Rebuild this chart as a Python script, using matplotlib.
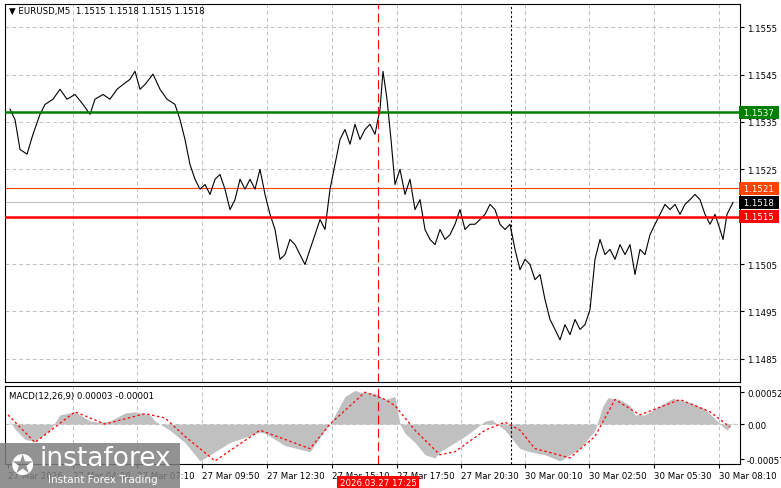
import matplotlib
matplotlib.use("Agg")
import matplotlib.pyplot as plt
from matplotlib.patches import Rectangle

# time position (chart pixel units) and close prices
px = [5,10,15,22,28,35,40,48,55,62,70,78,85,90,98,105,112,118,125,130,135,140,148,155,162,170,175,180,185,190,
      195,200,205,210,215,220,225,230,235,240,245,250,255,260,265,270,275,280,285,290,295,300,305,310,315,320,325,330,335,340,
      345,350,355,360,365,370,375,378,382,386,390,395,400,405,410,415,420,425,430,435,440,445,450,455,460,465,470,475,480,485,
      490,495,500,505,510,515,520,525,530,535,540,545,550,555,560,565,570,575,580,585,590,595,600,605,610,615,620,625,630,635,
      640,645,650,655,660,665,670,675,680,685,690,695,700,705,710,715,718,722,728]
price = [1.15377,1.15355,1.15292,1.15282,1.15324,1.15366,1.15387,1.15398,1.15419,1.15398,1.15408,1.15387,1.15366,1.15398,1.15408,1.15398,1.15419,1.15429,1.15440,1.15457,
         1.15419,1.15429,1.15451,1.15419,1.15398,1.15387,1.15355,1.15313,1.15260,1.15229,
         1.15208,1.15218,1.15197,1.15229,1.15239,1.15208,1.15165,1.15186,1.15229,1.15208,1.15229,1.15208,1.15250,1.15197,1.15155,1.15123,1.15060,1.15070,1.15102,1.15091,
         1.15070,1.15049,1.15081,1.15112,1.15144,1.15123,1.15208,1.15260,1.15313,1.15334,
         1.15303,1.15345,1.15313,1.15334,1.15345,1.15324,1.15377,1.15457,1.15398,1.15313,1.15218,1.15250,1.15197,1.15229,1.15165,1.15186,1.15123,1.15102,1.15091,1.15123,
         1.15102,1.15112,1.15134,1.15165,1.15123,1.15134,1.15134,1.15144,1.15155,1.15176,
         1.15165,1.15134,1.15123,1.15134,1.15081,1.15038,1.15060,1.15049,1.15017,1.15028,1.14975,1.14933,1.14912,1.14890,1.14922,1.14901,1.14933,1.14912,1.14922,1.14954,
         1.15060,1.15102,1.15070,1.15081,1.15060,1.15091,1.15070,1.15091,1.15028,1.15081,
         1.15070,1.15112,1.15134,1.15155,1.15176,1.15165,1.15176,1.15155,1.15176,1.15186,1.15197,1.15186,1.15155,1.15134,1.15155,1.15123,1.15102,1.15155,1.15180]

macd_x = [5,10,20,30,45,55,70,85,95,105,120,130,145,150,165,180,195,200,215,225,255,260,280,305,320,325,335,340,350,355,
          370,380,390,395,400,410,420,430,435,445,460,470,480,487,492,500,515,525,540,555,575,590,598,603,615,625,630,640,655,668,
          685,700,715,722,728]
macd_hist = [0.00005,-0.00008,-0.00025,-0.00028,-0.00010,0.00015,0.00020,0.00005,0.00003,0.00005,0.00018,0.00020,0.00015,0.00005,-0.00010,-0.00030,-0.00060,-0.00055,-0.00040,-0.00030,
             -0.00013,-0.00015,-0.00035,-0.00045,-0.00010,0.00000,0.00030,0.00045,0.00055,0.00052,
             0.00050,0.00040,0.00045,0.00000,-0.00015,-0.00030,-0.00050,-0.00055,-0.00045,-0.00035,-0.00020,-0.00008,0.00005,0.00007,0.00000,-0.00010,-0.00040,-0.00045,-0.00050,-0.00060,
             -0.00040,-0.00010,0.00030,0.00043,0.00040,0.00030,0.00015,0.00015,0.00030,0.00042,
             0.00035,0.00025,0.00000,-0.00010,0.00003]
sig_x = [3,30,70,100,140,160,180,210,255,305,325,360,380,390,410,435,450,480,500,515,530,565,590,610,635,675,705,725]
sig_y = [0.00015,-0.00030,0.00020,0.00000,0.00017,0.00010,-0.00020,-0.00060,-0.00010,-0.00040,0.00000,0.00052,0.00040,0.00030,-0.00010,-0.00050,-0.00045,-0.00010,0.00003,-0.00010,-0.00040,-0.00055,-0.00020,0.00040,0.00015,0.00040,0.00020,-0.00005]

tick_pos = [3,68,132,197,262,327,392,456,520,584,649,714]
tick_lab = ["27 Mar 2026","27 Mar 04:30","27 Mar 07:10","27 Mar 09:50","27 Mar 12:30","27 Mar 15:10",
            "27 Mar 17:50","27 Mar 20:30","30 Mar 00:10","30 Mar 02:50","30 Mar 05:30","30 Mar 08:10"]
price_ticks = [1.1485,1.1495,1.1505,1.1515,1.1525,1.1535,1.1545,1.1555]
macd_ticks = [-0.00057,0.0,0.00052]

FS = 6.2
W,H = 781,489
fig = plt.figure(figsize=(W/100,H/100),dpi=100)
fig.patch.set_facecolor("white")
ax = fig.add_axes([5/W,1-383/H,735/W,378/H])
am = fig.add_axes([5/W,1-465/H,735/W,78/H])
XMIN,XMAX = 0,735
for a in (ax,am):
    a.set_xlim(XMIN,XMAX)
    for s in a.spines.values():
        s.set_color("black"); s.set_linewidth(0.8)
    a.yaxis.tick_right()
    a.tick_params(axis="y",labelsize=FS,length=3,pad=2)
    a.set_xticks(tick_pos)
    for t in tick_pos[1:]:
        a.axvline(t,color="#c0c0c0",ls=(0,(4,3)),lw=0.7,zorder=0)
ax.set_ylim(1.14801,1.15599)
ax.set_yticks(price_ticks)
ax.set_yticklabels([f"{v:.4f}" for v in price_ticks])
for v in price_ticks:
    ax.axhline(v,color="#c0c0c0",ls=(0,(4,3)),lw=0.7,zorder=0)
ax.tick_params(axis="x",labelbottom=False,length=0)
ax.plot(px,price,color="black",lw=0.8,zorder=3)
ax.axhline(1.1537,color="#008000",lw=1.8,zorder=4)
ax.axhline(1.1515,color="#ff0000",lw=1.8,zorder=4)
ax.axhline(1.1521,color="#ff4500",lw=0.8,zorder=2)
ax.axhline(1.1518,color="#c0c0c0",lw=0.8,zorder=2)
for v,c,tc in [(1.1537,"#008000","white"),(1.1521,"#ff4500","white"),(1.1518,"black","white"),(1.1515,"#ff0000","white")]:
    ax.text(1.002,v,f" {v:.4f} ",transform=ax.get_yaxis_transform(),fontsize=FS,color=tc,va="center",ha="left",
            bbox=dict(boxstyle="square,pad=0.25",fc=c,ec="none"),zorder=6,clip_on=False)
for a in (ax,am):
    a.axvline(373,color="#ff0000",ls=(0,(8,4)),lw=0.8,zorder=5)
    a.axvline(506,color="black",ls=(0,(2,2)),lw=0.8,zorder=5)
ax.text(0.005,0.995,"▼ EURUSD,M5  1.1515 1.1518 1.1515 1.1518",transform=ax.transAxes,fontsize=FS,va="top",ha="left")

am.set_ylim(-0.00065,0.00062)
am.set_yticks(macd_ticks)
am.set_yticklabels(["-0.00057","0.00","0.00052"])
am.axhline(0,color="#c0c0c0",ls=(0,(4,3)),lw=0.7,zorder=0)
am.fill_between(macd_x,0,macd_hist,color="#c0c0c0",lw=0,zorder=2)
am.plot(sig_x,sig_y,color="red",ls=(0,(2,2)),lw=0.9,zorder=3)
am.text(0.005,0.93,"MACD(12,26,9) 0.00003 -0.00001",transform=am.transAxes,fontsize=FS,va="top",ha="left")
am.set_xticklabels(tick_lab,fontsize=FS,ha="left")
am.tick_params(axis="x",length=3,pad=2)
am.text(373,-0.00088,"2026.03.27 17:25",fontsize=FS,color="white",ha="center",va="top",
        bbox=dict(boxstyle="square,pad=0.3",fc="#ff0000",ec="none"),zorder=7,clip_on=False)

fig.patches.append(Rectangle((0,0),180/W,45/H,transform=fig.transFigure,fc="#7f7f7f",ec="none",alpha=0.85,zorder=10))
fig.text(40/W,17/H,"instaforex",fontsize=19,color="white",va="bottom",ha="left",zorder=11)
fig.text(48/W,4/H,"Instant Forex Trading",fontsize=7.5,color="white",va="bottom",ha="left",zorder=11)
fig.text(22/W,22/H,"✪",fontsize=20,color="white",va="center",ha="center",zorder=11)
fig.savefig("out.png",dpi=100)
